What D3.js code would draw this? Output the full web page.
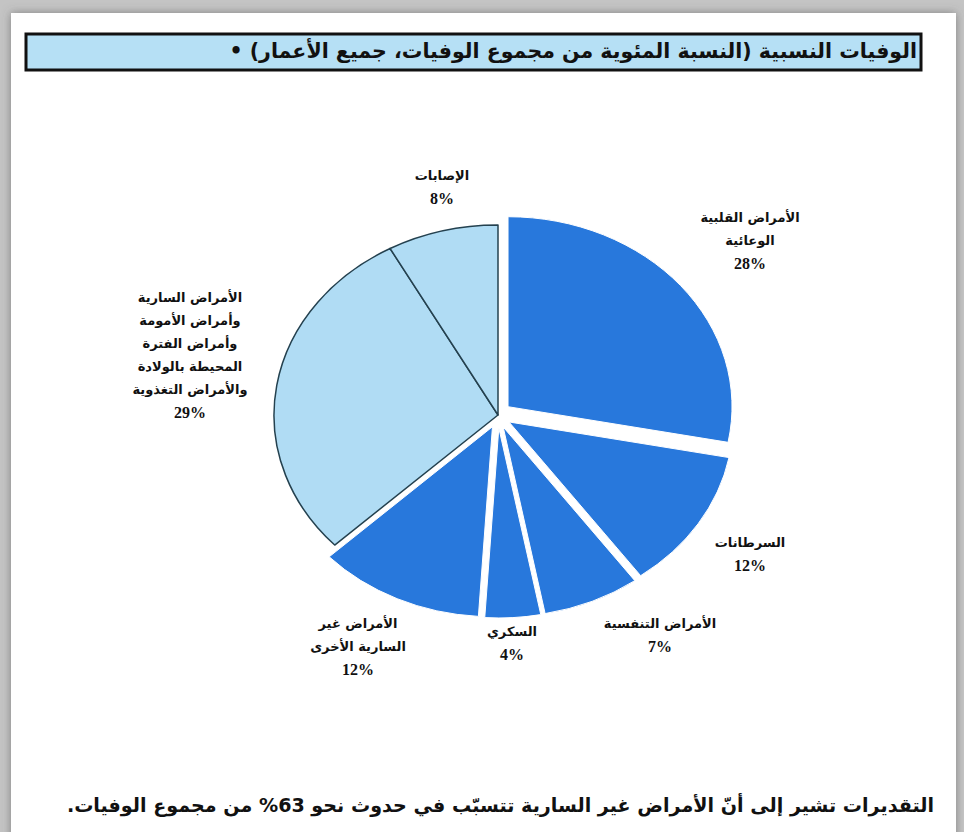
<!DOCTYPE html>
<html lang="ar">
<head>
<meta charset="utf-8">
<script src="https://cdn.jsdelivr.net/npm/d3@7"></script>
<style>
  html, body { margin: 0; padding: 0; background: #c4c4c4; }
  svg { display: block; }
  .ar { font-family: "DejaVu Sans", "Noto Sans", sans-serif; font-weight: bold; fill: #111; }
  .pct { font-family: "Liberation Serif", "DejaVu Serif", serif; font-weight: bold; fill: #111; }
</style>
</head>
<body>
<script>
// Share of all deaths by cause, all ages (percent)
const causes = [
  ["الأمراض القلبية", "الوعائية"],
  ["السرطانات"],
  ["الأمراض التنفسية"],
  ["السكري"],
  ["الأمراض غير", "السارية الأخرى"],
  ["الأمراض السارية", "وأمراض الأمومة", "وأمراض الفترة", "المحيطة بالولادة", "والأمراض التغذوية"],
  ["الإصابات"]
];
const shares = [28, 12, 7, 4, 12, 29, 8];
const noncommunicable = [true, true, true, true, true, false, false];

const titleText = "الوفيات النسبية (النسبة المئوية من مجموع الوفيات، جميع الأعمار) •";
const noteText = "التقديرات تشير إلى أنّ الأمراض غير السارية تتسبّب في حدوث نحو 63% من مجموع الوفيات.";

// label anchor points (centre of each text block, first baseline)
const labelPos = [
  [750, 222], [750, 547], [660, 628], [512, 636], [358, 628], [190, 302], [442, 180]
];

const W = 964, H = 832;
const svg = d3.select("body").append("svg").attr("width", W).attr("height", H);

// page with soft shadow
const defs = svg.append("defs");
const sh = defs.append("filter").attr("id", "shadow").attr("x", "-5%").attr("y", "-5%").attr("width", "110%").attr("height", "110%");
sh.append("feDropShadow").attr("dx", 0).attr("dy", 0).attr("stdDeviation", 5).attr("flood-color", "#555").attr("flood-opacity", 0.6);
svg.append("rect").attr("x", 11).attr("y", 13).attr("width", 945).attr("height", 840)
  .attr("fill", "#fff").attr("filter", "url(#shadow)");

// title box
svg.append("rect").attr("x", 26).attr("y", 34).attr("width", 895).attr("height", 36)
  .attr("fill", "#b6e0f5").attr("stroke", "#111").attr("stroke-width", 3);

function fitText(sel, target) {
  const len = sel.node().getComputedTextLength();
  const fs = parseFloat(sel.attr("font-size"));
  sel.attr("font-size", (fs * target / len).toFixed(2));
}

const title = svg.append("text").attr("class", "ar")
  .attr("x", 917).attr("y", 58).attr("direction", "rtl").attr("text-anchor", "start")
  .attr("font-size", 17).text(titleText);
fitText(title, 688);

// pie
const cx = 498, cy = 415, rx = 224, ry = 190, explode = 13;
const pie = d3.pie().sort(null).value(d => d)(shares);
const arc = d3.arc().innerRadius(0).outerRadius(ry);
const color = d3.scaleOrdinal().domain([true, false]).range(["#2878dc", "#b0dcf4"]);

const slices = svg.append("g").attr("transform", `translate(${cx},${cy})`);
slices.selectAll("g").data(pie).join("g")
  .attr("transform", (d, i) => {
    const a = (d.startAngle + d.endAngle) / 2;
    const k = noncommunicable[i] ? explode : 0;
    return `translate(${k * Math.sin(a)},${-k * Math.cos(a)}) scale(${rx / ry},1)`;
  })
  .append("path")
  .attr("d", arc)
  .attr("fill", (d, i) => color(noncommunicable[i]))
  .attr("stroke", (d, i) => noncommunicable[i] ? "#fff" : "#24414f")
  .attr("stroke-width", (d, i) => noncommunicable[i] ? 1 : 1.5)
  .attr("stroke-linejoin", "round")
  .attr("vector-effect", "non-scaling-stroke");

// labels
const lineH = 23;
causes.forEach((lines, i) => {
  const [lx, ly] = labelPos[i];
  const t = svg.append("g");
  lines.forEach((s, j) => {
    t.append("text").attr("class", "ar").attr("x", lx).attr("y", ly + j * lineH)
      .attr("text-anchor", "middle").attr("direction", "rtl").attr("font-size", 13).text(s);
  });
  t.append("text").attr("class", "pct").attr("x", lx).attr("y", ly + lines.length * lineH + 1)
    .attr("text-anchor", "middle").attr("font-size", 16).text(shares[i] + "%");
});

// footnote
const note = svg.append("text").attr("class", "ar")
  .attr("x", 934).attr("y", 812).attr("direction", "rtl").attr("text-anchor", "start")
  .attr("font-size", 15).text(noteText);
fitText(note, 868);
</script>
</body>
</html>
